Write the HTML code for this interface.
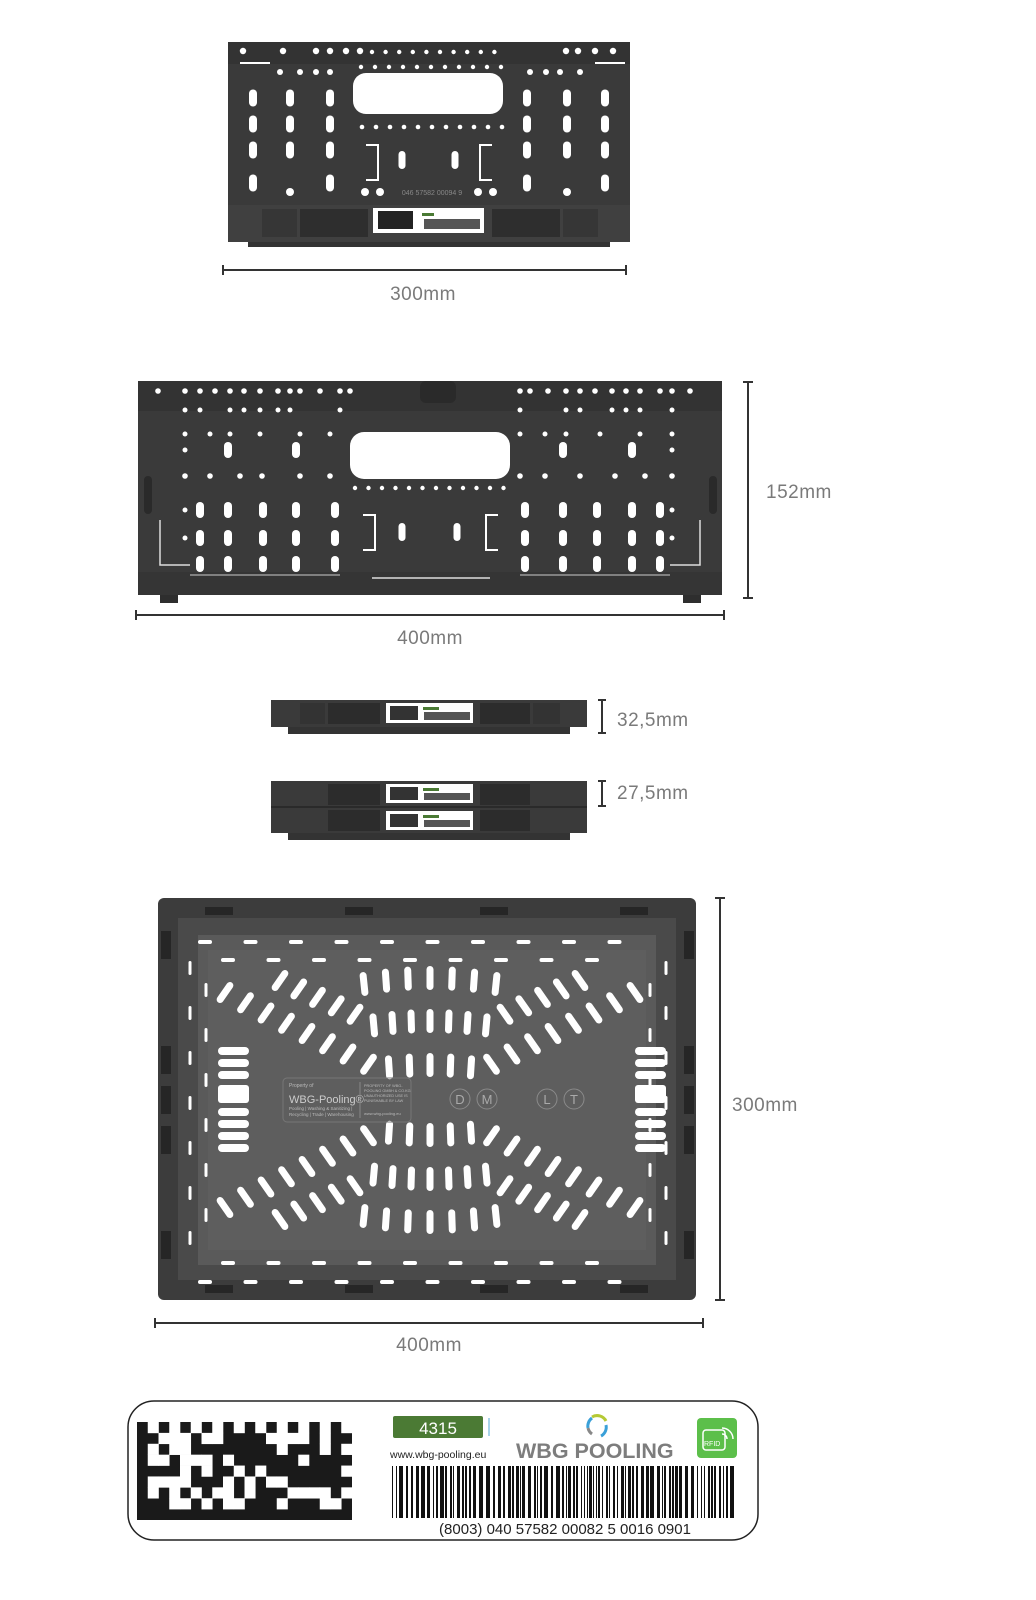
<!DOCTYPE html>
<html><head><meta charset="utf-8"><style>
html,body{margin:0;padding:0;background:#fff;}
body{width:1036px;height:1600px;position:relative;overflow:hidden;font-family:"Liberation Sans",sans-serif;}
svg{position:absolute;left:0;top:0;}
.dim{font-family:"Liberation Sans",sans-serif;font-size:19px;fill:#7a7a7a;letter-spacing:0.5px;}
</style></head><body>
<svg id="s" width="1036" height="1600" viewBox="0 0 1036 1600" xmlns="http://www.w3.org/2000/svg">
<rect x="228" y="42" width="402" height="200" fill="#3a3a3a"/>
<rect x="248" y="238" width="362" height="9" fill="#333"/>
<rect x="228" y="42" width="402" height="22" fill="#333"/>
<rect x="228" y="205" width="402" height="37" fill="#404040"/>
<rect x="262" y="209" width="35" height="28" fill="#363636"/>
<rect x="300" y="209" width="68" height="28" fill="#2e2e2e"/>
<rect x="492" y="209" width="68" height="28" fill="#2e2e2e"/>
<rect x="563" y="209" width="35" height="28" fill="#363636"/>
<rect x="373" y="208" width="111" height="25" fill="#fff"/>
<rect x="378" y="211" width="35" height="18" fill="#222"/>
<rect x="422" y="213" width="12" height="3" fill="#4a7a34"/>
<rect x="424" y="219" width="56" height="10" fill="#555"/>
<rect x="353" y="73" width="150" height="41" rx="13" fill="#fff"/>
<text x="432" y="195" font-size="7" fill="#888" text-anchor="middle">046 57582 00094 9</text>
<g id="c1"></g>
<line x1="223" y1="270" x2="626" y2="270" stroke="#333" stroke-width="2"/>
<line x1="223" y1="265" x2="223" y2="275" stroke="#333" stroke-width="2"/>
<line x1="626" y1="265" x2="626" y2="275" stroke="#333" stroke-width="2"/>
<text class="dim" x="423" y="300" text-anchor="middle">300mm</text>

<rect x="138" y="381" width="584" height="214" fill="#3a3a3a"/>
<rect x="138" y="381" width="584" height="30" fill="#333"/>
<rect x="160" y="595" width="18" height="8" fill="#2e2e2e"/>
<rect x="683" y="595" width="18" height="8" fill="#2e2e2e"/>
<rect x="138" y="572" width="584" height="23" fill="#353535"/>
<rect x="350" y="432" width="160" height="47" rx="14" fill="#fff"/>
<rect x="420" y="381" width="36" height="22" rx="6" fill="#2a2a2a"/>
<path d="M160 520 L160 565 L190 565 M700 520 L700 565 L670 565" stroke="#ddd" stroke-width="1.5" fill="none"/>
<line x1="190" y1="575" x2="340" y2="575" stroke="#ccc" stroke-width="1"/>
<line x1="372" y1="578" x2="490" y2="578" stroke="#ddd" stroke-width="1.5"/>
<line x1="520" y1="575" x2="670" y2="575" stroke="#ccc" stroke-width="1"/>
<g id="c2"></g>
<line x1="748" y1="382" x2="748" y2="598" stroke="#333" stroke-width="2"/>
<line x1="743" y1="382" x2="753" y2="382" stroke="#333" stroke-width="2"/>
<line x1="743" y1="598" x2="753" y2="598" stroke="#333" stroke-width="2"/>
<text class="dim" x="766" y="498">152mm</text>
<line x1="136" y1="615" x2="724" y2="615" stroke="#333" stroke-width="2"/>
<line x1="136" y1="610" x2="136" y2="620" stroke="#333" stroke-width="2"/>
<line x1="724" y1="610" x2="724" y2="620" stroke="#333" stroke-width="2"/>
<text class="dim" x="430" y="644" text-anchor="middle">400mm</text>

<g>
<rect x="271" y="700" width="316" height="27" fill="#3a3a3a"/>
<rect x="288" y="727" width="282" height="7" fill="#333"/>
<rect x="300" y="703" width="25" height="21" fill="#333"/>
<rect x="328" y="703" width="52" height="21" fill="#2c2c2c"/>
<rect x="480" y="703" width="50" height="21" fill="#2c2c2c"/>
<rect x="533" y="703" width="27" height="21" fill="#333"/>
<rect x="386" y="703" width="87" height="20" fill="#fff"/>
<rect x="390" y="706" width="28" height="14" fill="#333"/>
<rect x="423" y="707" width="16" height="3" fill="#4a7a34"/>
<rect x="424" y="712" width="46" height="8" fill="#555"/>
</g>
<path d="M598 700 H606 M602 700 V733 M598 733 H606" stroke="#333" stroke-width="2" fill="none"/>
<text class="dim" x="617" y="726">32,5mm</text>

<g transform="translate(0,81)">
<rect x="271" y="700" width="316" height="52" fill="#3a3a3a"/>
<rect x="288" y="752" width="282" height="7" fill="#333"/>
<line x1="271" y1="726" x2="587" y2="726" stroke="#2a2a2a" stroke-width="2"/>
<rect x="328" y="703" width="52" height="21" fill="#2c2c2c"/>
<rect x="480" y="703" width="50" height="21" fill="#2c2c2c"/>
<rect x="328" y="729" width="52" height="21" fill="#2c2c2c"/>
<rect x="480" y="729" width="50" height="21" fill="#2c2c2c"/>
<rect x="386" y="703" width="87" height="19" fill="#fff"/>
<rect x="390" y="706" width="28" height="13" fill="#333"/>
<rect x="423" y="707" width="16" height="3" fill="#4a7a34"/>
<rect x="424" y="712" width="46" height="7" fill="#555"/>
<rect x="386" y="730" width="87" height="19" fill="#fff"/>
<rect x="390" y="733" width="28" height="13" fill="#333"/>
<rect x="423" y="734" width="16" height="3" fill="#4a7a34"/>
<rect x="424" y="739" width="46" height="7" fill="#555"/>
</g>
<path d="M598 781 H606 M602 781 V806 M598 806 H606" stroke="#333" stroke-width="2" fill="none"/>
<text class="dim" x="617" y="799">27,5mm</text>

<rect x="158" y="898" width="538" height="402" rx="6" fill="#3c3c3c"/>
<rect x="178" y="918" width="498" height="362" fill="#4a4a4a"/>
<rect x="198" y="935" width="458" height="330" fill="#5a5a5a"/>
<rect x="208" y="950" width="438" height="300" fill="#5e5e5e"/>
<g id="bv"></g>
<rect x="283" y="1078" width="128" height="44" rx="4" fill="none" stroke="#777" stroke-width="1"/>
<text x="289" y="1087" font-size="5" fill="#bbb">Property of</text>
<text x="289" y="1103" font-size="11" fill="#ccc">WBG-Pooling®</text>
<text x="289" y="1110" font-size="4.5" fill="#bbb">Pooling | Washing &amp; Sanitizing |</text>
<text x="289" y="1116" font-size="4.5" fill="#bbb">Recycling | Trade | Warehousing</text>
<line x1="360" y1="1082" x2="360" y2="1118" stroke="#888"/>
<text x="364" y="1087" font-size="3.8" fill="#bbb">PROPERTY OF WBG-</text>
<text x="364" y="1092" font-size="3.8" fill="#bbb">POOLING GMBH &amp; CO.KG</text>
<text x="364" y="1097" font-size="3.8" fill="#bbb">UNAUTHORIZED USE IS</text>
<text x="364" y="1102" font-size="3.8" fill="#bbb">PUNISHABLE BY LAW</text>
<text x="364" y="1115" font-size="4" fill="#bbb">www.wbg-pooling.eu</text>
<g fill="none" stroke="#8a8a8a" stroke-width="1">
<circle cx="460" cy="1099" r="10"/><circle cx="487" cy="1099" r="10"/>
<circle cx="547" cy="1099" r="10"/><circle cx="574" cy="1099" r="10"/></g>
<g font-size="13" fill="#aaa" text-anchor="middle">
<text x="460" y="1104">D</text><text x="487" y="1104">M</text>
<text x="547" y="1104">L</text><text x="574" y="1104">T</text></g>
<line x1="720" y1="898" x2="720" y2="1300" stroke="#333" stroke-width="2"/>
<line x1="715" y1="898" x2="725" y2="898" stroke="#333" stroke-width="2"/>
<line x1="715" y1="1300" x2="725" y2="1300" stroke="#333" stroke-width="2"/>
<text class="dim" x="732" y="1111">300mm</text>
<line x1="155" y1="1323" x2="703" y2="1323" stroke="#333" stroke-width="2"/>
<line x1="155" y1="1318" x2="155" y2="1328" stroke="#333" stroke-width="2"/>
<line x1="703" y1="1318" x2="703" y2="1328" stroke="#333" stroke-width="2"/>
<text class="dim" x="429" y="1351" text-anchor="middle">400mm</text>

<rect x="128" y="1401" width="630" height="139" rx="26" fill="#fff" stroke="#222" stroke-width="1.5"/>
<rect x="137" y="1422" width="215" height="98" fill="#1a1a1a"/>
<g id="dm"></g>
<rect x="393" y="1416" width="90" height="22" rx="2" fill="#4b7a34"/>
<text x="438" y="1434" font-size="17" fill="#fff" text-anchor="middle">4315</text>
<rect x="488" y="1418" width="2" height="18" fill="#a9d4ea"/>
<text x="390" y="1458" font-size="10.5" fill="#222">www.wbg-pooling.eu</text>
<text x="516" y="1458" font-size="21.5" font-weight="bold" fill="#7d7d7d">WBG POOLING</text>
<path d="M592 1417 a10 10 0 0 1 14 4" stroke="#b5c934" stroke-width="3" fill="none"/>
<path d="M588 1428 a10 10 0 0 1 4 -10" stroke="#3aa0d8" stroke-width="3" fill="none"/>
<path d="M606 1425 a10 10 0 0 1 -5 11" stroke="#3aa0d8" stroke-width="3" fill="none"/>
<path d="M592 1434 a10 10 0 0 1 -4 -6" stroke="#888" stroke-width="3" fill="none"/>
<rect x="697" y="1418" width="40" height="40" rx="4" fill="#5cbf4a"/>
<rect x="703" y="1430" width="22" height="20" rx="3" fill="none" stroke="#fff" stroke-width="1.5"/>
<text x="704" y="1446" font-size="7" fill="#fff">RFID</text>
<path d="M722 1434 a5 5 0 0 1 5 5 M722 1428 a11 11 0 0 1 11 11" stroke="#fff" stroke-width="1.5" fill="none"/>
<g id="bc"></g>
<text x="565" y="1534" font-size="15" fill="#222" text-anchor="middle">(8003) 040 57582 00082 5 0016 0901</text>
</svg>
<script>
var NS="http://www.w3.org/2000/svg";
function el(p,t,a){var e=document.createElementNS(NS,t);for(var k in a)e.setAttribute(k,a[k]);p.appendChild(e);return e;}
var seed=12345;function rnd(){seed=(seed*16807)%2147483647;return (seed-1)/2147483646;}
function hsh(a,b){var v=Math.sin(a*12.9898+b*78.233)*43758.5453;return v-Math.floor(v);}
function pill(p,cx,cy,w,h,rot,fill){el(p,"rect",{x:cx-w/2,y:cy-h/2,width:w,height:h,rx:Math.min(w,h)/2,fill:fill||"#fff",transform:rot?"rotate("+rot+" "+cx+" "+cy+")":""});}
function dot(p,cx,cy,r){el(p,"circle",{cx:cx,cy:cy,r:r,fill:"#fff"});}
var c1=document.getElementById("c1");
[243,283,316,330,346,360,566,578,595,613].forEach(function(x){dot(c1,x,51,3.2);});
for(var x=372;x<=508;x+=13.6)dot(c1,x,52,2.2);
for(var x=361;x<=510;x+=14)dot(c1,x,67,2.2);
[280,300,316,330,530,546,560,580].forEach(function(x){dot(c1,x,72,3);});
for(var x=362;x<=512;x+=14)dot(c1,x,127,2.3);
[253,290,330,527,567,605].forEach(function(x){[98,124,150].forEach(function(y){pill(c1,x,y,8,17,0);});});
[253,330,527,605].forEach(function(x){pill(c1,x,183,8,17,0);});
[290,365,380,478,493,567].forEach(function(x){dot(c1,x,192,4);});
pill(c1,402,160,7,18,0);pill(c1,455,160,7,18,0);
el(c1,"path",{d:"M366 145 h12 v35 h-12 M492 145 h-12 v35 h12",stroke:"#fff","stroke-width":2,fill:"none"});
el(c1,"rect",{x:240,y:62,width:30,height:2,fill:"#fff"});el(c1,"rect",{x:595,y:62,width:30,height:2,fill:"#fff"});
var c2=document.getElementById("c2");
[158,185,200,215,230,244,260,278,290,300,320,340,350,520,530,548,566,580,595,612,626,640,660,672,690].forEach(function(x){dot(c2,x,391,2.8);});
[185,200,230,244,260,278,290,340,520,566,580,612,626,640,672].forEach(function(x){dot(c2,x,410,2.5);});
[185,210,230,260,300,330,520,545,566,600,640,672].forEach(function(x){dot(c2,x,434,2.5);});
for(var x=355;x<=515;x+=13.5)dot(c2,x,488,2.2);
[185,210,240,262,300,330,520,545,580,615,645,672].forEach(function(x){dot(c2,x,476,2.8);});
[200,228,263,296,335,525,563,597,632,660].forEach(function(x){[510,538,564].forEach(function(y){pill(c2,x,y,8,16,0);});});
[228,296,563,632].forEach(function(x){pill(c2,x,450,8,16,0);});
[185,672].forEach(function(x){[450,510,538].forEach(function(y){dot(c2,x,y,2.5);});});
pill(c2,402,532,7,18,0);pill(c2,457,532,7,18,0);
el(c2,"path",{d:"M363 515 h12 v35 h-12 M498 515 h-12 v35 h12",stroke:"#fff","stroke-width":2,fill:"none"});
pill(c2,148,495,8,38,0,"#2a2a2a");pill(c2,713,495,8,38,0,"#2a2a2a");
var bv=document.getElementById("bv");
for(var x=205;x<=650;x+=45.5){pill(bv,x,942,14,4,0);pill(bv,x,1282,14,4,0);}
for(var x=228;x<=630;x+=45.5){pill(bv,x,960,14,4,0);pill(bv,x,1263,14,4,0);}
for(var y=968;y<=1250;y+=45){pill(bv,190,y,3,14,0);pill(bv,666,y,3,14,0);}
for(var y=990;y<=1230;y+=45){pill(bv,206,y,3,14,0);pill(bv,650,y,3,14,0);}
[218,635].forEach(function(x){[1051,1063,1075,1112,1124,1136,1148].forEach(function(y){el(bv,"rect",{x:x,y:y-4,width:31,height:8,rx:4,fill:"#fff"});});el(bv,"rect",{x:x,y:1085,width:31,height:18,rx:3,fill:"#fff"});});
[[161,945],[161,1060],[161,1100],[161,1140],[161,1245],[684,945],[684,1060],[684,1100],[684,1140],[684,1245]].forEach(function(p){el(bv,"rect",{x:p[0],y:p[1]-14,width:10,height:28,fill:"#262626"});});
[[205,910],[345,910],[480,910],[620,910],[205,1288],[345,1288],[480,1288],[620,1288]].forEach(function(p){el(bv,"rect",{x:p[0],y:p[1]-3,width:28,height:8,fill:"#262626"});});
var cx=430;
[[978,66,0],[1021,150,0.45],[1065,205,0.5]].forEach(function(r){
 var y0=r[0],W=r[1],sl=r[2];
 var n=Math.round(W/20);
 for(var i=-n;i<=n;i++){
  var dx=i*W/n,a=Math.abs(dx),yy=y0+a*a/66/66*6,ang=dx/66*6;
  if(a>60&&sl>0){yy=y0-(a-60)*sl;ang=(dx>0?-1:1)*35;}
  pill(bv,cx+dx,yy,7,24,ang);
  pill(bv,cx+dx,2200-yy,7,24,-ang);
 }
});
var dm=document.getElementById("dm");
var cw=215/20,ch=98/9;
for(var i=0;i<20;i++)for(var j=0;j<9;j++){
 if(i==0||j==8)continue;
 var white;
 if(j==0)white=(i%2==1);
 else if(i==19)white=(j%2==0);
 else white=hsh(i+1,j+3)<0.45;
 if(white)el(dm,"rect",{x:137+i*cw,y:1422+j*ch,width:cw+0.3,height:ch+0.3,fill:"#fff"});}
var bc=document.getElementById("bc");seed=4242;var x=392;
while(x<736){var w=1+Math.floor(rnd()*3.2);el(bc,"rect",{x:x,y:1466,width:w,height:52,fill:"#111"});x+=w+1+Math.floor(rnd()*3);}
</script>
</body></html>
